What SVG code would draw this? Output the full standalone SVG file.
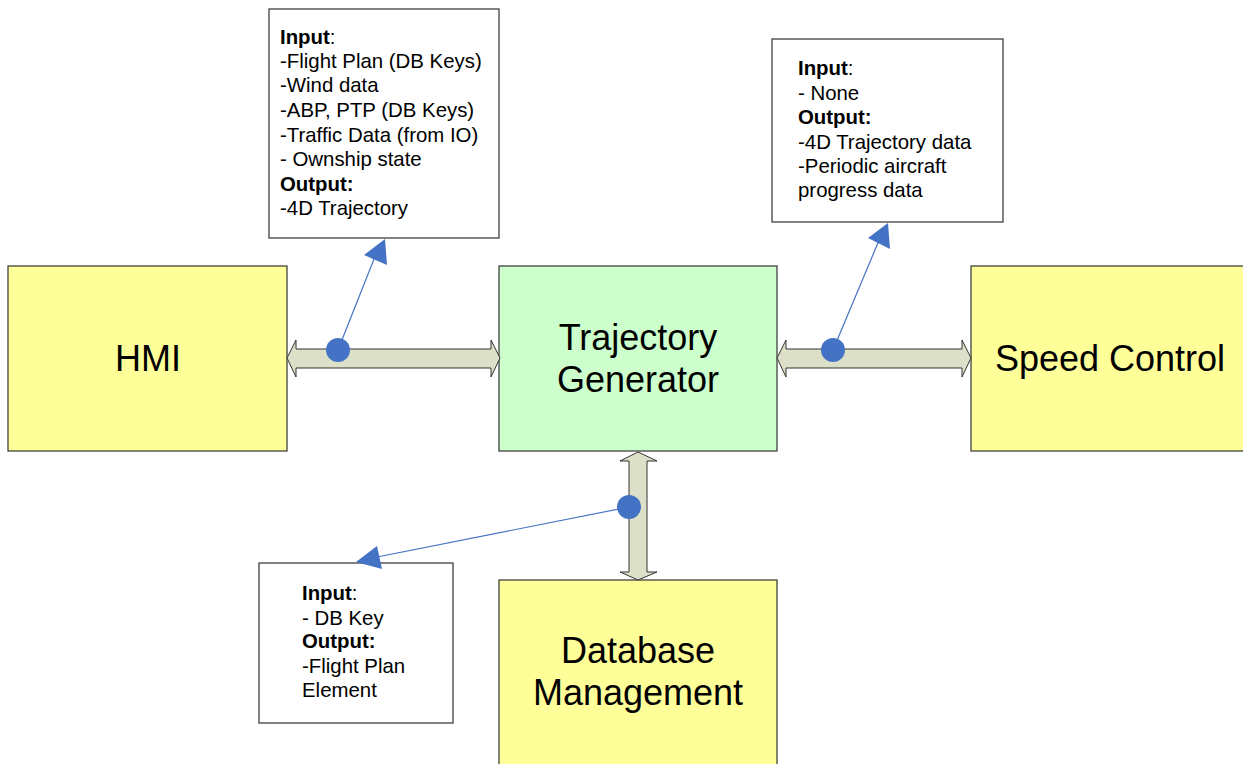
<svg xmlns="http://www.w3.org/2000/svg" width="1243" height="764" viewBox="0 0 1243 764">
<style>
.node{stroke:#333;stroke-width:1.2}
.yel{fill:#FFFF99}
.grn{fill:#CCFFCC}
.lbl{font-family:"Liberation Sans",Arial,sans-serif;font-size:36px;fill:#000;text-anchor:middle}
.note{fill:#fff;stroke:#404040;stroke-width:1.3}
.nt{font-family:"Liberation Sans",Arial,sans-serif;font-size:20.4px;fill:#000}
.b{font-weight:bold}
.dbl{fill:#DDE0C8;stroke:#333;stroke-width:1}
.ln{stroke:#4472C4;stroke-width:1.2;fill:none}
.dot{fill:#4472C4}
</style>
<rect width="1243" height="764" fill="#fff"/>
<g id="hmi">
<rect class="node yel" x="8" y="266" width="279" height="185"/>
<text class="lbl" x="148" y="371">HMI</text>
</g>
<g id="trajectory-generator">
<rect class="node grn" x="499" y="266" width="278" height="185"/>
<text class="lbl" x="638" y="350">Trajectory</text>
<text class="lbl" x="638" y="392">Generator</text>
</g>
<g id="speed-control">
<rect class="node yel" x="971" y="266" width="280" height="185"/>
<text class="lbl" x="1110" y="371">Speed Control</text>
</g>
<g id="database-management">
<rect class="node yel" x="499" y="580" width="278" height="190"/>
<text class="lbl" x="638" y="663">Database</text>
<text class="lbl" x="638" y="705">Management</text>
</g>
<g id="note-hmi">
<rect class="note" x="269" y="9" width="230" height="229"/>
<text class="nt" x="280" y="44"><tspan class="b">Input</tspan>:</text>
<text class="nt" x="280" y="68">-Flight Plan (DB Keys)</text>
<text class="nt" x="280" y="92">-Wind data</text>
<text class="nt" x="280" y="117">-ABP, PTP (DB Keys)</text>
<text class="nt" x="280" y="142">-Traffic Data (from IO)</text>
<text class="nt" x="280" y="166">- Ownship state</text>
<text class="nt b" x="280" y="191">Output:</text>
<text class="nt" x="280" y="215">-4D Trajectory</text>
</g>
<g id="note-speed">
<rect class="note" x="772" y="39" width="231" height="183"/>
<text class="nt" x="798" y="75"><tspan class="b">Input</tspan>:</text>
<text class="nt" x="798" y="100">- None</text>
<text class="nt b" x="798" y="124">Output:</text>
<text class="nt" x="798" y="149">-4D Trajectory data</text>
<text class="nt" x="798" y="173">-Periodic aircraft</text>
<text class="nt" x="798" y="197">progress data</text>
</g>
<g id="note-db">
<rect class="note" x="259" y="563" width="194" height="160"/>
<text class="nt" x="302" y="600"><tspan class="b">Input</tspan>:</text>
<text class="nt" x="302" y="625">- DB Key</text>
<text class="nt b" x="302" y="648">Output:</text>
<text class="nt" x="302" y="673">-Flight Plan</text>
<text class="nt" x="302" y="697">Element</text>
</g>
<g id="connectors">
<polygon class="dbl" points="287,358 296,340 296,349 491,349 491,340 500,358 491,377 491,368 296,368 296,377"/>
<polygon class="dbl" points="777,358 786,340 786,349 962,349 962,340 971,358 962,377 962,368 786,368 786,377"/>
<polygon class="dbl" points="638,452 657,461 647,461 647,572 657,572 638,580 620,572 629,572 629,461 620,461"/>
<line class="ln" x1="338" y1="350" x2="376" y2="254"/>
<polygon class="dot" points="385,239 364,255 387,265"/>
<circle class="dot" cx="338" cy="350" r="12"/>
<line class="ln" x1="833" y1="350" x2="880" y2="238"/>
<polygon class="dot" points="888,223 868,238 890,249"/>
<circle class="dot" cx="833" cy="350" r="12"/>
<line class="ln" x1="629" y1="507" x2="372" y2="558"/>
<polygon class="dot" points="356,562 377,546 382,569"/>
<circle class="dot" cx="629" cy="507" r="12"/>
</g>
</svg>
